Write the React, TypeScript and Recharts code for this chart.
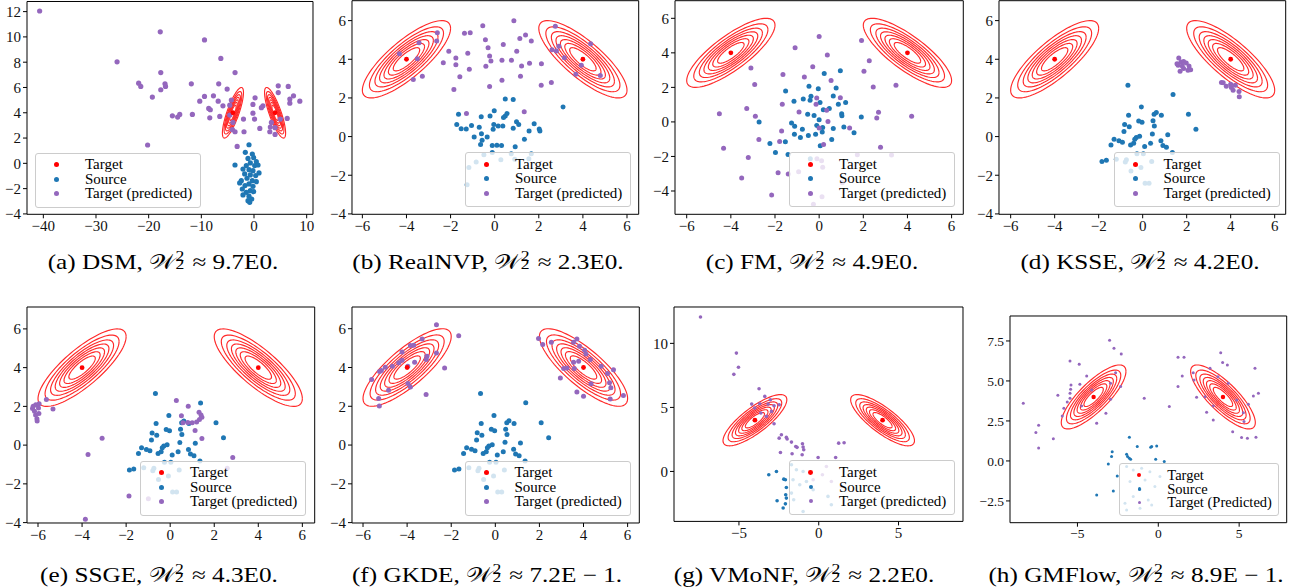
import React from 'react';
import { ScatterChart, Scatter, XAxis, YAxis, ReferenceLine } from 'recharts';

type Pt = [number, number];

const BLUE = '#1f77b4';
const PURPLE = '#9467bd';
const RED = '#ff0000';
const CONTOUR = '#ff2a2a';
const FONT = '"Liberation Serif", serif';

// target: two correlated gaussians
const targetMeans: Pt[] = [[-4, 4], [4, 4]];
const targetCorr = [0.8, -0.8];
const contourRadii = [2.0, 1.68, 1.43, 1.22, 1.02, 0.82, 0.6];

const ticksSix = [-6, -4, -2, 0, 2, 4, 6];
const ticksFour = [-4, -2, 0, 2, 4, 6];
const dsmXTicks = [-40, -30, -20, -10, 0, 10];
const dsmYTicks = [-4, -2, 0, 2, 4, 6, 8, 10, 12];
const wideXTicks = [-5, 0, 5];
const vmonfYTicks = [0, 5, 10];
const gmflowYTicks = [-2.5, 0, 2.5, 5, 7.5];

const methods = ['DSM', 'RealNVP', 'FM', 'KSSE', 'SSGE', 'GKDE', 'VMoNF', 'GMFlow'];
const w2Values = ['9.7E0', '2.3E0', '4.9E0', '4.2E0', '4.3E0', '7.2E \u2212 1', '2.2E0', '8.9E \u2212 1'];

const dsmSource: Pt[] = [
  [-0.95, 1.47], [-1.65, 0.87], [-0.32, 0.74], [-1.14, 0.39], [-0.06, 0.45], [0.44, 0.13], [-3.61, -0.13],
  [-0.7, 0.03], [-1.46, -0.18], [0.13, -0.18], [0.76, -0.13], [-2.09, -0.45], [-0.95, -0.5], [-0.19, -0.58],
  [0.95, -0.76], [-1.77, -0.84], [-0.7, -0.92], [0.32, -0.97], [-1.33, -1.18], [-2.41, -1.37], [-0.32, -1.37],
  [0.44, -1.45], [-2.72, -1.55], [-0.95, -1.63], [-1.71, -1.76], [-0.19, -1.82], [-2.22, -2.03], [-0.7, -2.16],
  [-1.46, -2.29], [-0.06, -2.24], [-2.09, -2.5], [-0.95, -2.6], [-0.44, -2.82], [-1.14, -2.95], [-0.82, -3.08],
];
const dsmPredicted: Pt[] = [
  [-40.7, 12.05], [-17.8, 10.4], [-9.4, 9.76], [-26.0, 8.03], [-6.3, 8.3], [-17.7, 7.18], [-3.6, 7.18],
  [-21.9, 6.34], [-21.5, 6.08], [-16.9, 6.29], [-16.8, 6.08], [-17.7, 5.82], [-11.9, 6.29], [-6.7, 6.29],
  [-5.1, 5.87], [-19.3, 5.24], [-9.4, 5.29], [-7.7, 5.34], [-10.3, 4.92], [-6.8, 4.92], [-5.9, 4.55],
  [-8.6, 4.34], [-8.3, 4.24], [-15.5, 3.76], [-14.5, 3.66], [-14.1, 3.87], [-11.7, 3.87], [-8.4, 3.6],
  [-6.5, 3.71], [-4.6, 3.82], [-4.0, 3.24], [-4.1, 2.66], [-3.6, 2.5], [-2.0, 3.5], [-1.9, 2.5], [-3.2, 1.34],
  [0.2, 5.18], [-0.2, 4.66], [-0.2, 3.97], [0.1, 3.5], [1.1, 2.76], [3.0, 2.5], [3.1, 2.87], [3.3, 3.24],
  [1.7, 4.55], [1.4, 4.4], [4.0, 2.82], [4.0, 2.29], [4.6, 6.13], [4.6, 5.6], [6.5, 6.08], [6.8, 5.08],
  [6.8, 4.76], [7.5, 5.34], [8.7, 4.92], [6.3, 3.55], [5.0, 3.5], [-4.3, 5.0], [-4.6, 4.6], [-20.2, 1.45],
];

const realnvpSource: Pt[] = [
  [0.48, 1.94], [0.84, 1.92], [3.1, 1.53], [-0.02, 1.34], [-1.64, 1.15], [-0.21, 1.06], [-0.61, 1.03],
  [0.48, 1.06], [0.56, 1.2], [0.4, 0.99], [0.99, 0.77], [1.09, 0.62], [1.79, 0.67], [-1.72, 0.62],
  [-1.52, 0.41], [-1.29, 0.39], [-1.05, 0.57], [-0.7, 0.48], [-0.04, 0.63], [0.16, 0.55], [0.37, 0.55],
  [-0.07, 0.38], [0.84, 0.43], [1.56, 0.29], [2.02, 0.39], [2.05, 0.29], [-0.93, -0.02], [-0.6, 0.15],
  [-0.64, -0.41], [-0.57, -0.19], [-0.34, -0.02], [-0.11, -0.46], [0.1, -0.45], [0.31, -0.46], [1.35, -0.14],
  [0.93, -0.53], [-0.11, -0.82], [-0.49, -0.94], [0.28, -1.2], [0.75, -0.89], [1.66, -0.89], [-0.84, -1.32],
  [-1.17, -1.6], [-1.25, -2.49], [0.91, -1.17], [1.55, -1.15],
];
const realnvpPredicted: Pt[] = [
  [-4.32, 4.29], [-3.43, 4.85], [-2.6, 5.37], [-2.63, 4.94], [-3.51, 4.03], [-3.69, 2.95], [-3.28, 3.12],
  [-2.08, 4.41], [-2.33, 3.82], [-1.37, 5.35], [-1.11, 5.37], [-0.54, 5.73], [0.87, 5.99], [-1.22, 4.31],
  [-1.76, 4.07], [-1.76, 3.72], [-1.58, 3.09], [-1.15, 3.48], [-1.85, 2.44], [-0.42, 5.01], [-0.3, 4.6],
  [-0.23, 4.17], [-0.17, 3.91], [-0.4, 3.64], [-0.23, 2.59], [0.39, 4.77], [0.33, 3.95], [0.33, 2.92],
  [0.76, 3.95], [1.0, 4.41], [1.4, 5.25], [1.14, 5.08], [1.66, 4.94], [1.22, 3.65], [1.58, 3.79],
  [1.17, 3.12], [2.12, 3.77], [2.11, 2.66], [2.57, 2.8], [2.6, 4.49], [2.91, 4.68], [2.75, 5.71], [2.8, 4.43],
  [3.16, 4.08], [3.68, 3.22], [3.93, 3.69], [4.35, 4.8], [4.79, 3.16], [1.34, 1.29], [-1.28, 1.2],
];

const fmSource: Pt[] = [
  [0.96, 2.96], [0.23, 2.81], [0.77, 1.96], [-0.04, 1.92], [-0.46, 2.06], [-1.52, 1.79], [-0.37, 1.48],
  [-0.41, 1.25], [0.64, 1.5], [-1.14, 1.19], [-0.72, 1.33], [0.04, 1.12], [0.87, 1.02], [1.2, 1.12],
  [1.02, 0.48], [1.03, 0.35], [1.91, 0.29], [0.19, 0.71], [0.46, 0.77], [-0.52, 0.44], [-0.23, 0.37],
  [0.0, 0.13], [-2.72, 0.0], [-1.25, -0.06], [-1.11, -0.25], [-0.76, -0.42], [-0.11, -0.21], [0.16, -0.33],
  [0.64, -0.38], [1.12, -0.29], [1.58, -0.63], [-1.12, -0.71], [-0.85, -0.9], [-0.49, -0.79], [-0.16, -0.71],
  [0.14, -0.58], [0.57, -1.02], [-1.53, -1.15], [-2.23, -1.25], [0.05, -1.38], [-1.98, -1.77], [-1.41, -1.88],
  [-0.4, -2.13],
];
const fmPredicted: Pt[] = [
  [0.0, 4.94], [-1.09, 4.29], [0.37, 3.87], [1.92, 4.71], [2.27, 3.54], [2.03, 2.94], [2.45, 2.02],
  [3.48, 2.12], [-3.09, 3.12], [-2.92, 2.17], [-1.64, 2.75], [-0.67, 2.6], [-0.29, 3.19], [0.54, 2.4],
  [-0.11, 1.38], [0.96, 1.4], [-1.67, 1.02], [-4.52, 0.48], [-3.28, 0.77], [-2.89, 0.33], [-0.91, 0.58],
  [-0.14, 1.02], [0.34, 0.67], [2.69, 0.56], [2.61, 0.23], [4.19, 0.33], [0.4, 0.02], [-1.7, -0.52],
  [-2.73, -1.02], [-1.79, -1.13], [0.0, -0.35], [0.2, -1.31], [1.38, -0.35], [2.78, -1.46], [-4.33, -1.52],
  [-3.21, -2.06], [-1.86, -2.94], [-1.4, -3.02], [-0.93, -2.88], [-3.51, -3.25], [-2.15, -4.23],
  [-0.26, -4.77], [0.13, -4.33], [-0.1, -2.13], [0.11, -2.25], [0.16, -2.63], [1.73, -1.9], [3.28, -1.92],
  [1.05, -3.52],
];

// KSSE, SSGE and GKDE use the same source sample
const sharedSource: Pt[] = [
  [-0.67, 2.66], [1.38, 2.18], [-0.06, 1.53], [-0.64, 1.11], [2.08, 1.15], [0.62, 1.25], [0.52, 1.15],
  [-0.18, 0.81], [-0.03, 0.74], [0.47, 0.82], [0.85, 1.11], [-0.82, 0.63], [-0.61, 0.51], [0.53, 0.55],
  [2.42, 0.38], [-0.85, 0.26], [0.44, 0.14], [1.14, 0.1], [-0.14, 0.02], [-0.29, -0.05], [-1.3, -0.14],
  [-1.08, -0.22], [-0.92, -0.29], [-0.36, -0.14], [-0.41, -0.34], [-0.55, -0.43], [0.36, -0.34],
  [0.83, -0.22], [0.92, -0.46], [1.08, -0.55], [0.09, -0.51], [-1.44, -0.43], [-1.2, -1.17], [-1.65, -1.23],
  [-1.85, -1.29], [-0.74, -1.2], [-0.26, -0.89], [0.03, -0.89], [1.35, -0.82], [0.41, -1.29], [-0.79, -1.32],
  [-0.08, -1.6], [-0.53, -1.78], [0.11, -2.42], [0.29, -2.42],
];
const kssePredicted: Pt[] = [
  [1.64, 4.07], [1.61, 3.69], [1.74, 3.86], [1.86, 3.89], [1.98, 3.81], [2.11, 3.65], [1.86, 3.52],
  [1.7, 3.38], [2.06, 3.43], [2.18, 3.46], [1.8, 3.65], [1.56, 3.77], [3.58, 2.8], [3.66, 2.78],
  [4.0, 2.71], [4.03, 2.54], [4.21, 2.66], [4.11, 2.4], [4.38, 2.33], [4.39, 2.06], [3.8, 2.6],
];
const ssgePredicted: Pt[] = [
  [-6.25, 1.89], [-6.22, 2.01], [-6.1, 2.08], [-5.95, 2.13], [-5.98, 1.92], [-6.16, 1.75], [-6.11, 1.55],
  [-6.05, 1.36], [-6.04, 1.25], [-5.96, 1.63], [-5.62, 2.35], [-5.32, 1.86], [-3.09, 0.36], [-3.73, -0.48],
  [-1.87, -2.63], [-3.85, -3.83], [-0.99, -2.77], [0.28, 2.3], [0.82, 2.01], [0.51, 1.51], [1.31, 1.7],
  [1.4, 1.56], [1.44, 1.44], [1.33, 1.32], [1.2, 1.19], [1.0, 1.15], [0.8, 1.17], [0.58, 1.15],
  [1.13, 0.76], [1.44, 0.34], [2.84, -0.64], [2.59, -1.19],
];
const gkdePredicted: Pt[] = [
  [-2.67, 6.21], [-1.66, 5.64], [-3.32, 5.47], [-3.85, 5.13], [-3.7, 5.15], [-4.23, 4.8], [-4.23, 4.37],
  [-3.1, 4.58], [-3.13, 4.41], [-2.67, 4.75], [-3.97, 4.07], [-3.66, 4.27], [-3.96, 3.17], [-3.85, 3.0],
  [-2.3, 3.98], [-3.14, 2.61], [-4.67, 4.07], [-4.99, 4.01], [-5.17, 3.84], [-5.25, 3.79], [-4.84, 2.83],
  [-5.61, 3.38], [-5.29, 2.4], [-5.26, 2.02], [-4.38, 4.24], [1.96, 5.49], [2.15, 5.18], [2.54, 5.3],
  [3.55, 5.3], [3.7, 5.47], [3.82, 5.09], [4.05, 4.89], [4.11, 4.7], [4.31, 4.41], [3.78, 4.32],
  [3.55, 4.27], [3.25, 3.98], [3.1, 3.95], [3.58, 3.95], [2.95, 3.46], [4.34, 3.16], [3.7, 2.73],
  [4.0, 2.52], [5.18, 3.21], [5.24, 2.95], [5.09, 3.69], [5.36, 3.89], [5.21, 2.38], [5.81, 2.56],
  [4.8, 4.06],
];

const vmonfSource: Pt[] = [
  [-3.13, -0.26], [-2.65, 0.0], [-2.19, -0.6], [-2.09, -0.65], [-2.03, -1.25], [-2.07, -1.82],
  [-2.03, -2.08], [-2.61, -2.29], [-2.09, -2.53], [-2.23, -2.86], [-1.71, 0.52], [-1.4, 0.13],
  [-0.98, 0.0], [-1.61, -0.65], [-1.19, -1.04], [-0.77, -0.78], [-0.35, -1.43], [-1.57, -2.21],
  [-0.98, -3.13], [-1.71, -1.69], [0.58, -1.95], [0.79, -2.6],
];
const vmonfPredicted: Pt[] = [
  [-7.41, 12.06], [-5.16, 9.24], [-5.03, 8.13], [-5.32, 7.58], [-3.74, 6.46], [-3.38, 5.86], [-3.03, 5.6],
  [-4.2, 5.26], [-3.7, 5.29], [-4.01, 4.95], [-3.17, 5.26], [-2.8, 5.13], [-2.48, 5.21], [-2.96, 4.69],
  [-3.28, 4.3], [-3.63, 4.56], [-2.8, 3.72], [-2.48, 2.6], [-2.34, 2.86], [-2.03, 2.66], [-1.98, 2.53],
  [-1.71, 2.29], [-1.44, 1.95], [-1.36, 1.88], [-1.02, 2.16], [-0.98, 1.9], [-0.94, 1.69], [-1.04, 1.3],
  [-1.67, 1.38], [-2.4, 1.48], [-0.04, 1.09], [1.06, 1.09], [1.25, 2.21], [1.59, 2.24], [0.23, -0.26],
  [0.79, -0.78], [0.48, 0.39], [-0.35, -0.65], [1.42, -1.17],
];

const gmflowSource: Pt[] = [
  [-1.79, 1.48], [-2.85, 0.58], [-2.89, 0.27], [-1.96, 0.42], [-1.9, 0.27], [-1.79, 0.17], [-1.71, 0.1],
  [-1.3, 0.9], [-0.47, 0.85], [-0.41, 0.9], [-0.1, 0.94], [-0.16, 0.1], [0.37, -0.04], [-3.09, -0.19],
  [-2.54, -0.94], [-2.78, -1.88], [-3.81, -2.13], [-1.13, -1.77], [-1.96, -0.35], [-1.55, -0.56],
  [-1.03, -0.46], [-0.52, -0.67], [0.1, -0.98], [-1.75, -1.29], [-0.82, -1.19], [-0.21, -1.6],
  [-1.55, -2.23], [-0.62, -2.44], [-1.96, -3.06], [-1.13, -2.96], [-0.41, -2.75], [-2.06, -2.65],
];
const gmflowPredicted: Pt[] = [
  [-8.35, 3.6], [-7.57, 1.77], [-7.4, 2.23], [-7.4, 0.81], [-6.49, 1.38], [-6.21, 4.1], [-5.46, 6.25],
  [-5.42, 4.48], [-5.46, 4.23], [-5.46, 3.92], [-4.89, 6.04], [-4.85, 4.79], [-5.4, 4.75], [-5.84, 3.29],
  [-5.94, 2.81], [-5.63, 3.69], [-4.43, 5.31], [-4.12, 4.44], [-3.81, 2.35], [-3.01, 7.54], [-2.74, 7.04],
  [-2.29, 6.69], [-2.95, 4.85], [-2.95, 3.85], [-2.64, 5.52], [-2.33, 4.65], [-3.24, 2.98], [-4.74, 3.44],
  [-0.87, 3.92], [0.68, 3.4], [1.22, 6.48], [1.59, 6.48], [1.48, 5.31], [1.22, 4.65], [2.16, 5.52],
  [2.21, 5.06], [2.37, 3.98], [2.99, 3.04], [3.4, 2.56], [3.2, 5.79], [3.86, 6.77], [3.98, 6.15],
  [4.27, 6.0], [3.69, 5.27], [4.33, 4.85], [4.6, 1.83], [5.15, 1.46], [5.51, 1.42], [6.04, 1.48],
  [5.98, 5.79], [5.88, 4.06], [6.19, 4.23], [5.57, 3.54], [5.26, 3.02], [5.3, 2.46], [2.89, 4.02],
  [3.4, 3.44], [4.85, 3.81],
];

type Box = { l: number; t: number; r: number; b: number };
type LegendBox = { l: number; t: number; w: number; h: number; rows: number[]; font: number; markX: number; textX: number };
type Panel = {
  tag: string;
  source: Pt[];
  predicted: Pt[];
  xDomain: [number, number];
  yDomain: [number, number];
  xTicks: number[];
  yTicks: number[];
  yDecimals: number;
  tickFont: number;
  box: Box;
  legend: LegendBox;
  caption: { cx: number; base: number };
  dot: number;
  targetDot: number;
  legendDot: number;
  predLabel: string;
};

const rowsTop = [11.8, 26.6, 40.8];
const lg = (l: number, t: number): LegendBox => ({ l, t, w: 166, h: 55, rows: rowsTop, font: 15, markX: 21.5, textX: 50 });

const panels: Panel[] = [
  {
    tag: 'a', source: dsmSource, predicted: dsmPredicted, xDomain: [-43.1, 11.2], yDomain: [-4.03, 12.8],
    xTicks: dsmXTicks, yTicks: dsmYTicks, yDecimals: 0, tickFont: 15,
    box: { l: 27.3, t: 1.5, r: 313.3, b: 214.3 }, legend: lg(35, 152.5),
    caption: { cx: 163, base: 266 }, dot: 2.6, targetDot: 2.4, legendDot: 2.5, predLabel: 'Target (predicted)',
  },
  {
    tag: 'b', source: realnvpSource, predicted: realnvpPredicted, xDomain: [-6.47, 6.53], yDomain: [-4.02, 7.03],
    xTicks: ticksSix, yTicks: ticksFour, yDecimals: 0, tickFont: 15,
    box: { l: 352.3, t: 0.7, r: 639, b: 214.3 }, legend: lg(465, 152.3),
    caption: { cx: 488, base: 266 }, dot: 2.5, targetDot: 2.4, legendDot: 2.5, predLabel: 'Target (predicted)',
  },
  {
    tag: 'c', source: fmSource, predicted: fmPredicted, xDomain: [-6.53, 6.53], yDomain: [-5.35, 7.02],
    xTicks: ticksSix, yTicks: ticksFour, yDecimals: 0, tickFont: 15,
    box: { l: 675, t: 0.7, r: 963.3, b: 214.3 }, legend: lg(789, 152.3),
    caption: { cx: 812, base: 266 }, dot: 2.5, targetDot: 2.4, legendDot: 2.5, predLabel: 'Target (predicted)',
  },
  {
    tag: 'd', source: sharedSource, predicted: kssePredicted, xDomain: [-6.53, 6.5], yDomain: [-4.02, 7.03],
    xTicks: ticksSix, yTicks: ticksFour, yDecimals: 0, tickFont: 15,
    box: { l: 999.3, t: 0.7, r: 1286, b: 214.3 }, legend: lg(1113.5, 152.3),
    caption: { cx: 1140, base: 266 }, dot: 2.5, targetDot: 2.4, legendDot: 2.5, predLabel: 'Target (predicted)',
  },
  {
    tag: 'e', source: sharedSource, predicted: ssgePredicted, xDomain: [-6.5, 6.56], yDomain: [-4.02, 7.13],
    xTicks: ticksSix, yTicks: ticksFour, yDecimals: 0, tickFont: 15,
    box: { l: 27.3, t: 307.3, r: 315, b: 523.3 }, legend: lg(140, 460.7),
    caption: { cx: 159, base: 579 }, dot: 2.5, targetDot: 2.4, legendDot: 2.5, predLabel: 'Target (predicted)',
  },
  {
    tag: 'f', source: sharedSource, predicted: gkdePredicted, xDomain: [-6.5, 6.53], yDomain: [-4.02, 7.12],
    xTicks: ticksSix, yTicks: ticksFour, yDecimals: 0, tickFont: 15,
    box: { l: 351.7, t: 307.3, r: 639, b: 523.3 }, legend: lg(464.5, 460.7),
    caption: { cx: 487, base: 579 }, dot: 2.5, targetDot: 2.4, legendDot: 2.5, predLabel: 'Target (predicted)',
  },
  {
    tag: 'g', source: vmonfSource, predicted: vmonfPredicted, xDomain: [-9.07, 9.04], yDomain: [-3.9, 12.84],
    xTicks: wideXTicks, yTicks: vmonfYTicks, yDecimals: 0, tickFont: 15,
    box: { l: 674.3, t: 307.3, r: 963.3, b: 521.7 }, legend: { ...lg(789, 460), rows: [12.7, 27.3, 41] },
    caption: { cx: 804, base: 579 }, dot: 1.8, targetDot: 2.4, legendDot: 2.0, predLabel: 'Target (predicted)',
  },
  {
    tag: 'h', source: gmflowSource, predicted: gmflowPredicted, xDomain: [-9.17, 7.94], yDomain: [-3.86, 9.06],
    xTicks: wideXTicks, yTicks: gmflowYTicks, yDecimals: 1, tickFont: 13.5,
    box: { l: 1010, t: 316, r: 1286.7, b: 522.7 },
    legend: { l: 1119, t: 463.3, w: 160, h: 53, rows: [12, 25.7, 39.4], font: 14.5, markX: 20.3, textX: 48.3 },
    caption: { cx: 1136, base: 579 }, dot: 1.5, targetDot: 2.2, legendDot: 1.8, predLabel: 'Target (Predicted)',
  },
];

const toXY = (pts: Pt[]) => pts.map(([x, y]) => ({ x, y }));

// contour of one target component, Mahalanobis radius r
function contourRing(mean: Pt, rho: number, r: number) {
  const s = Math.sqrt(1 - rho * rho);
  const out: { x: number; y: number }[] = [];
  for (let i = 0; i <= 96; i++) {
    const t = (i / 96) * Math.PI * 2;
    out.push({ x: mean[0] + r * Math.cos(t), y: mean[1] + r * (rho * Math.cos(t) + s * Math.sin(t)) });
  }
  return out;
}

const noDot = () => <g />;
const dotShape = (r: number, color: string) => (props: any) => (
  <circle cx={props.cx} cy={props.cy} r={r} fill={color} />
);
const fmtTick = (decimals: number) => (v: number) =>
  (decimals ? v.toFixed(decimals) : String(v)).replace('-', '\u2212');

function WassersteinSymbol() {
  const script = { position: 'absolute' as const, left: 0, fontSize: '0.7em', lineHeight: 0.7 };
  return (
    <>
      <span>{'\u{1D4B2}'}</span>
      <span style={{ display: 'inline-block', position: 'relative', width: '0.42em', height: '1em' }}>
        <span style={{ ...script, top: '0.16em' }}>2</span>
        <span style={{ ...script, top: '0.73em' }}>2</span>
      </span>
    </>
  );
}

function PanelView({ p, idx }: { p: Panel; idx: number }) {
  const yW = Math.min(45, Math.floor(p.box.l));
  const mt = Math.min(6, p.box.t);
  const mr = Math.min(12, 1289 - p.box.r);
  const xH = 26;
  const width = yW + (p.box.r - p.box.l) + mr;
  const height = mt + (p.box.b - p.box.t) + xH;
  const tickStyle = { fontSize: p.tickFont, fill: '#111', fontFamily: 'Liberation Serif' };
  const lgnd = p.legend;
  const legendItems = [
    { label: 'Target', color: RED, r: p.legendDot + (idx >= 6 ? 0.4 : 0) },
    { label: 'Source', color: BLUE, r: p.legendDot },
    { label: p.predLabel, color: PURPLE, r: p.legendDot },
  ];

  return (
    <>
      <div style={{ position: 'absolute', left: p.box.l - yW, top: p.box.t - mt }}>
        <ScatterChart width={width} height={height} margin={{ top: mt, right: mr, bottom: 0, left: 0 }}>
          <XAxis
            type="number" dataKey="x" domain={p.xDomain} ticks={p.xTicks} allowDataOverflow interval={0}
            height={xH} tickSize={4} tickMargin={2} tick={tickStyle} tickFormatter={fmtTick(0)}
            axisLine={{ stroke: '#000' }} tickLine={{ stroke: '#000' }}
          />
          <YAxis
            type="number" dataKey="y" domain={p.yDomain} ticks={p.yTicks} allowDataOverflow interval={0}
            width={yW} tickSize={4} tickMargin={2} tick={tickStyle} tickFormatter={fmtTick(p.yDecimals)}
            axisLine={{ stroke: '#000' }} tickLine={{ stroke: '#000' }}
          />
          {targetMeans.flatMap((m, k) =>
            contourRadii.map((r, j) => (
              <Scatter
                key={`ring-${k}-${j}`}
                data={contourRing(m, targetCorr[k], r)}
                line={{ stroke: CONTOUR, strokeWidth: 1.15 }}
                lineType="joint"
                shape={noDot}
                isAnimationActive={false}
              />
            ))
          )}
          <Scatter data={toXY(p.source)} shape={dotShape(p.dot, BLUE)} isAnimationActive={false} />
          <Scatter data={toXY(p.predicted)} shape={dotShape(p.dot, PURPLE)} isAnimationActive={false} />
          <Scatter data={toXY(targetMeans)} shape={dotShape(p.targetDot, RED)} isAnimationActive={false} />
          <ReferenceLine y={p.yDomain[1]} stroke="#000" />
          <ReferenceLine x={p.xDomain[1]} stroke="#000" />
        </ScatterChart>
      </div>

      <div
        style={{
          position: 'absolute', left: lgnd.l, top: lgnd.t, width: lgnd.w, height: lgnd.h, boxSizing: 'border-box',
          background: 'rgba(255,255,255,0.8)', border: '1px solid #cccccc', borderRadius: 3,
        }}
      >
        {legendItems.map((it, i) => (
          <React.Fragment key={it.label}>
            <div
              style={{
                position: 'absolute', left: lgnd.markX - it.r - 1, top: lgnd.rows[i] - it.r - 1,
                width: it.r * 2, height: it.r * 2, borderRadius: '50%', background: it.color,
              }}
            />
            <div
              style={{
                position: 'absolute', left: lgnd.textX - 1, top: lgnd.rows[i] - 0.5 * lgnd.font - 1,
                fontSize: lgnd.font, lineHeight: `${lgnd.font}px`, whiteSpace: 'nowrap', color: '#000',
              }}
            >
              {it.label}
            </div>
          </React.Fragment>
        ))}
      </div>

      <div
        style={{
          position: 'absolute', left: p.caption.cx - 200, width: 400, top: p.caption.base - 17.6,
          textAlign: 'center', fontSize: 21, lineHeight: '21px', whiteSpace: 'nowrap', color: '#000',
          transform: 'scaleX(1.2)', transformOrigin: `${200}px 50%`,
        }}
      >
        ({p.tag}) {methods[idx]}, <WassersteinSymbol /> {'\u2248'} {w2Values[idx]}.
      </div>
    </>
  );
}

export default function App() {
  return (
    <div
      style={{
        position: 'absolute', left: 0, top: 0, width: 1289, height: 588, overflow: 'hidden',
        background: '#ffffff', fontFamily: FONT,
      }}
    >
      {panels.map((p, i) => (
        <PanelView key={p.tag} p={p} idx={i} />
      ))}
    </div>
  );
}
